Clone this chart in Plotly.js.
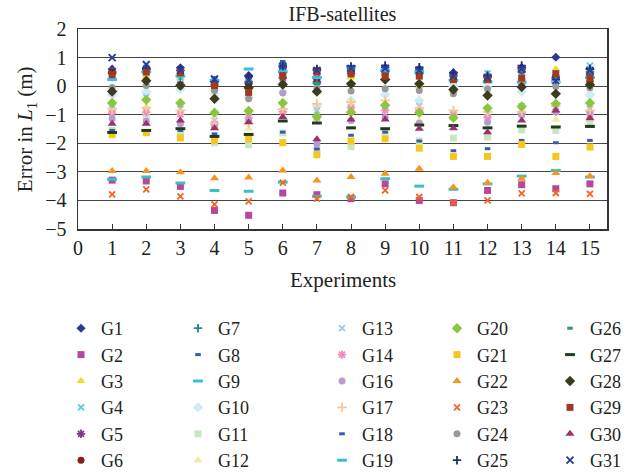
<!DOCTYPE html>
<html>
<head>
<meta charset="utf-8">
<script src="https://cdn.plot.ly/plotly-3.0.1.min.js"></script>
<style>html,body{margin:0;padding:0;background:#fff;}#chart{width:626px;height:472px;}</style>
</head>
<body>
<div id="chart"></div>
<script>
var experiments = [1,2,3,4,5,6,7,8,9,10,11,12,13,14,15];
var xTicks = [0,1,2,3,4,5,6,7,8,9,10,11,12,13,14,15];
var yTicks = [2,1,0,-1,-2,-3,-4,-5];

var G1  = [0.60,0.60,0.64,0.20,0.37,0.66,0.55,0.60,0.65,0.60,0.47,0.35,0.65,1.01,0.60];
var G2  = [-3.29,-3.32,-3.51,-4.35,-4.52,-3.74,-3.80,-3.94,-3.42,-4.00,-4.08,-3.65,-3.45,-3.59,-3.42];
var G3  = [0.25,0.35,0.30,-0.10,0.00,0.30,-0.20,0.30,0.45,0.00,-0.15,0.15,0.30,0.60,0.20];
var G4  = [0.55,0.78,0.30,0.25,0.15,0.55,0.30,0.50,0.50,0.45,0.02,0.45,0.50,0.25,0.72];
var G5  = [0.50,0.60,0.05,0.05,0.10,0.30,0.15,0.45,0.55,0.45,0.40,0.30,0.60,0.30,0.40];
var G6  = [0.55,0.55,0.45,0.10,0.06,0.45,0.23,0.50,0.40,0.50,0.40,0.30,0.55,0.35,0.16];
var G7  = [0.50,0.65,0.35,0.20,0.16,0.76,0.10,0.55,0.50,0.55,0.35,0.40,0.50,0.30,0.50];
var G8  = [0.45,0.70,0.50,0.28,0.30,0.86,0.60,0.60,0.60,0.50,0.45,0.35,0.50,0.50,0.45];
var G9  = [0.23,0.50,0.35,0.20,0.60,0.51,0.30,0.69,0.55,0.49,0.20,0.15,0.14,0.14,0.30];
var G10 = [-0.30,-0.20,-0.10,-0.30,-0.40,-0.20,-0.70,-0.50,-0.30,-0.50,0.00,-0.05,-0.20,0.10,-0.30];
var G11 = [-1.55,-1.10,-1.67,-1.98,-2.05,-1.64,-2.23,-2.11,-1.58,-1.92,-1.82,-1.78,-1.53,-1.55,-1.32];
var G12 = [-0.85,-0.73,-0.90,-1.30,-1.49,-0.90,-0.80,-0.60,-0.60,-1.20,-0.90,-1.00,-0.90,-1.18,-1.05];
var G13 = [-0.80,-0.38,-0.80,-1.20,-0.90,-0.70,-0.85,-0.81,-0.70,-0.70,-0.97,-0.97,-0.70,-0.70,-0.80];
var G14 = [-0.95,-0.91,-0.99,-1.32,-1.10,-0.89,-1.10,-0.75,-0.85,-0.85,-1.00,-1.10,-0.97,-0.90,-1.00];
var G16 = [-1.14,-1.23,-1.32,-1.40,-1.20,-0.24,-2.02,-1.20,-1.10,-1.30,-1.11,-1.26,-1.00,-0.90,-0.91];
var G17 = [-0.80,-0.75,-0.85,-1.30,-1.30,-0.80,-0.62,-0.56,-0.50,-0.77,-0.85,-0.90,-0.90,-0.70,-0.85];
var G18 = [-1.55,-1.60,-1.55,-1.67,-1.70,-1.61,-2.20,-1.72,-1.61,-1.92,-2.26,-2.19,-1.90,-1.98,-1.90];
var G19 = [-3.26,-3.18,-3.39,-3.65,-3.68,-3.36,-3.85,-3.88,-3.24,-3.50,-3.61,-3.42,-3.15,-2.95,-3.18];
var G20 = [-0.59,-0.48,-0.59,-0.93,-0.87,-0.59,-1.06,-0.91,-0.67,-0.93,-1.11,-0.77,-0.71,-0.62,-0.59];
var G21 = [-1.69,-1.63,-1.81,-1.90,-1.84,-1.98,-2.40,-1.92,-1.84,-2.17,-2.46,-2.46,-2.04,-2.46,-2.13];
var G22 = [-2.97,-2.97,-3.01,-3.22,-3.20,-2.95,-3.30,-3.18,-3.07,-2.89,-3.54,-3.38,-3.24,-3.04,-3.15];
var G23 = [-3.79,-3.61,-3.86,-4.14,-4.03,-3.38,-3.94,-3.88,-3.65,-3.88,-4.08,-4.00,-3.75,-3.74,-3.77];
var G24 = [-0.05,0.02,0.00,-0.15,-0.44,0.10,-0.05,-0.17,-0.09,-0.15,-0.27,-0.10,0.10,-0.01,-0.06];
var G25 = [0.45,0.60,0.55,0.15,0.35,0.70,0.60,0.69,0.72,0.66,0.47,0.35,0.72,0.23,0.60];
var G26 = [0.35,0.55,0.40,0.10,0.16,0.40,0.10,0.55,0.45,0.45,0.30,0.30,0.55,0.30,0.50];
var G27 = [-1.62,-1.55,-1.49,-1.76,-1.69,-1.22,-1.29,-1.46,-1.49,-1.36,-1.38,-1.46,-1.40,-1.43,-1.41];
var G28 = [-0.19,0.19,0.02,-0.44,-0.06,0.06,-0.19,0.08,0.23,0.08,-0.12,-0.33,-0.03,-0.27,0.05];
var G29 = [0.40,0.49,0.47,0.02,-0.22,0.37,0.49,0.43,0.35,0.35,0.23,0.23,0.28,0.43,0.28];
var G30 = [-1.32,-1.32,-1.20,-1.47,-1.26,-1.08,-1.86,-1.17,-1.17,-1.49,-1.47,-1.61,-1.20,-0.85,-1.12];
var G31 = [1.00,0.75,0.55,0.25,0.20,0.70,0.55,0.62,0.62,0.55,0.35,0.30,0.60,0.20,0.55];

var names = ['G1','G2','G3','G4','G5','G6','G7','G8','G9','G10','G11','G12','G13','G14','G16','G17','G18','G19','G20','G21','G22','G23','G24','G25','G26','G27','G28','G29','G30','G31'];
var values = [G1,G2,G3,G4,G5,G6,G7,G8,G9,G10,G11,G12,G13,G14,G16,G17,G18,G19,G20,G21,G22,G23,G24,G25,G26,G27,G28,G29,G30,G31];
var colors = ['#2B3990','#B5489C','#E6E033','#5BC8E0','#7B3A8E','#8B1C1C','#1B8A8A','#3A5AB0','#36BDEB','#CFEDF0','#C8E6C2','#F0EE9E','#9EC8EE','#F08DC0','#B79BCF','#F9C79A','#3A5AB0','#3BBFBF','#8CC63E','#F6C61C','#F7931E','#F26522','#999999','#1F2D6B','#2C9A6A','#1D3D1D','#3B3B1F','#A33A1F','#9F2F6B','#2B3A9E'];
var symbols = ['diamond','square','triangle-up','x-thin-open','asterisk-open','circle','cross-thin-open','line-ew-open','line-ew-open','diamond','square','triangle-up','x-thin-open','asterisk-open','circle','cross-thin-open','line-ew-open','line-ew-open','diamond','square','triangle-up','x-thin-open','circle','cross-thin-open','line-ew-open','line-ew-open','diamond','square','triangle-up','x-thin-open'];
var sizes = [7,7,8,6,7,7,6,4,7,8,7,8,6,7,7,7,4,7,8,7,8,6,7,6,4,7,8,7,8,7];

var legendIds = ['legend','legend2','legend3','legend4','legend5'];
var traces = names.map(function(n, i){
  var open = symbols[i].indexOf('open') >= 0;
  return {
    type: 'scatter', mode: 'markers', name: n,
    x: experiments, y: values[i],
    legend: legendIds[Math.floor(i/6)],
    marker: {symbol: symbols[i], size: sizes[i], color: colors[i],
             line: {color: colors[i], width: open ? (symbols[i].indexOf('line') === 0 ? 3 : 1.8) : 0}}
  };
});

var serif = 'Liberation Serif, Times New Roman, serif';
var legCols = [61, 178, 322, 437, 550];
var layout = {
  width: 626, height: 472,
  margin: {l: 78, r: 19, t: 29, b: 243, autoexpand: false},
  paper_bgcolor: '#fff', plot_bgcolor: '#fff',
  font: {family: serif, size: 20, color: '#222'},
  title: {text: 'IFB-satellites', x: 0.547, xanchor: 'center', y: 0.971, yanchor: 'middle', font: {family: serif, size: 20, color: '#222'}},
  xaxis: {range: [0, 15.5], tickvals: xTicks, ticktext: xTicks.map(String), ticks: 'inside', ticklen: 5, tickcolor: '#333',
          showgrid: false, zeroline: false, showline: true, linecolor: '#333', linewidth: 1.5, mirror: true, automargin: false,
          tickfont: {family: serif, size: 20, color: '#222'}},
  yaxis: {range: [-5, 2], tickvals: yTicks, ticktext: yTicks.map(function(v){return v < 0 ? '\u2212' + Math.abs(v) : String(v);}),
          ticks: '', showgrid: true, gridcolor: '#444', gridwidth: 1, zeroline: false, automargin: false,
          showline: true, linecolor: '#333', linewidth: 1.5, mirror: true, ticklabelstandoff: 6,
          tickfont: {family: serif, size: 20, color: '#222'}},
  annotations: [
    {text: 'Experiments', xref: 'paper', yref: 'paper', x: 0.5, y: -0.255, xanchor: 'center', yanchor: 'middle',
     showarrow: false, font: {family: serif, size: 21, color: '#222'}},
    {text: 'Error in <i>L</i><sub>1</sub> (m)', xref: 'paper', yref: 'paper', x: -0.098, y: 0.5, xanchor: 'center', yanchor: 'middle',
     textangle: -90, showarrow: false, font: {family: serif, size: 21, color: '#222'}}
  ],
  showlegend: true
};
legendIds.forEach(function(id, k){
  layout[id] = {x: legCols[k]/626, xref: 'container', xanchor: 'left', y: 1 - 310/472, yref: 'container', yanchor: 'top',
                orientation: 'v', bgcolor: 'rgba(0,0,0,0)', font: {family: serif, size: 18, color: '#222'}, tracegroupgap: 0};
});

Plotly.newPlot('chart', traces, layout, {displayModeBar: false, staticPlot: true});
</script>
</body>
</html>
